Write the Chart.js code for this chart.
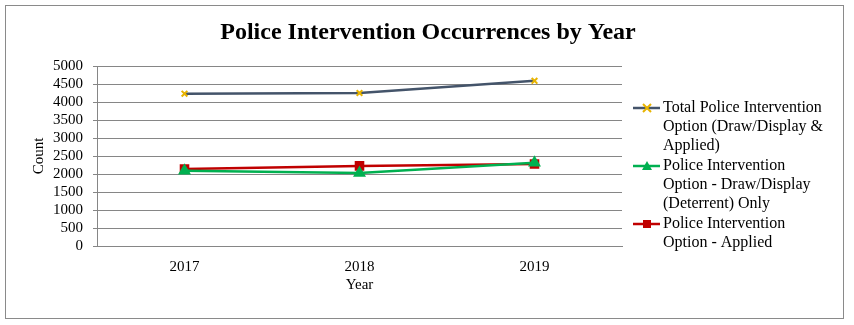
<!DOCTYPE html>
<html>
<head>
<meta charset="utf-8">
<script src="https://cdn.jsdelivr.net/npm/chart.js@4"></script>
<style>
  html, body { margin: 0; padding: 0; background: #fff; }
  #wrap { width: 854px; height: 325px; position: relative; }
</style>
</head>
<body>
<div id="wrap"><canvas id="chart" width="854" height="325"></canvas></div>
<script>
// Chart data
const years = ['2017', '2018', '2019'];
const totalIntervention = [4230, 4250, 4590];
const drawDisplayOnly = [2090, 2025, 2310];
const appliedOnly = [2140, 2225, 2280];

const yTicks = [0, 500, 1000, 1500, 2000, 2500, 3000, 3500, 4000, 4500, 5000];

const chartTitle = 'Police Intervention Occurrences by Year';
const legendLabels = [
  ['Total Police Intervention', 'Option (Draw/Display &', 'Applied)'],
  ['Police Intervention', 'Option - Draw/Display', '(Deterrent) Only'],
  ['Police Intervention', 'Option - Applied']
];

const serif = '"Liberation Serif", "Times New Roman", serif';

// Draws the frame, the title and the wrapped legend
const decorations = {
  id: 'decorations',
  afterDraw(chart) {
    const ctx = chart.ctx;
    ctx.save();
    ctx.strokeStyle = '#8a8a8a';
    ctx.lineWidth = 1;
    ctx.strokeRect(5.5, 5.5, 838, 313);

    ctx.fillStyle = '#000';
    ctx.font = 'bold 24px ' + serif;
    ctx.textAlign = 'center';
    ctx.textBaseline = 'middle';
    ctx.fillText(chartTitle, 428, 33);

    // legend
    ctx.font = '16px ' + serif;
    ctx.textAlign = 'left';
    const startY = [108, 166, 224];
    chart.data.datasets.forEach((ds, i) => {
      const y = startY[i];
      ctx.strokeStyle = ds.borderColor;
      ctx.lineWidth = 2.5;
      ctx.beginPath();
      ctx.moveTo(633, y);
      ctx.lineTo(660, y);
      ctx.stroke();
      drawMarker(ctx, ds, 647, y);
      ctx.fillStyle = '#000';
      legendLabels[i].forEach((line, j) => {
        ctx.fillText(line, 663, y + j * 19);
      });
    });
    ctx.restore();
  }
};

function drawMarker(ctx, ds, x, y) {
  ctx.save();
  const r = 4;
  if (ds.pointStyle === 'rect') {
    ctx.fillStyle = ds.pointBackgroundColor;
    ctx.fillRect(x - r, y - r, 2 * r, 2 * r);
  } else if (ds.pointStyle === 'triangle') {
    ctx.fillStyle = ds.pointBackgroundColor;
    ctx.beginPath();
    ctx.moveTo(x, y - r - 1);
    ctx.lineTo(x + r + 1, y + r);
    ctx.lineTo(x - r - 1, y + r);
    ctx.closePath();
    ctx.fill();
  } else {
    ctx.strokeStyle = ds.pointBorderColor;
    ctx.lineWidth = 2;
    ctx.beginPath();
    ctx.moveTo(x - r, y - r); ctx.lineTo(x + r, y + r);
    ctx.moveTo(x + r, y - r); ctx.lineTo(x - r, y + r);
    ctx.stroke();
  }
  ctx.restore();
}

const ctx = document.getElementById('chart').getContext('2d');
new Chart(ctx, {
  type: 'line',
  data: {
    labels: years,
    datasets: [
      {
        label: legendLabels[0].join(' '),
        data: totalIntervention,
        borderColor: '#44546A',
        borderWidth: 2.5,
        pointStyle: 'crossRot',
        pointRadius: 4,
        pointBorderColor: '#E8B400',
        pointBackgroundColor: '#E8B400',
        pointBorderWidth: 2
      },
      {
        label: legendLabels[1].join(' '),
        data: drawDisplayOnly,
        borderColor: '#00B050',
        borderWidth: 2.5,
        pointStyle: 'triangle',
        pointRadius: 5,
        pointBorderColor: '#00B050',
        pointBackgroundColor: '#00B050'
      },
      {
        label: legendLabels[2].join(' '),
        data: appliedOnly,
        borderColor: '#C00000',
        borderWidth: 2.5,
        pointStyle: 'rect',
        pointRadius: 5,
        pointBorderColor: '#C00000',
        pointBackgroundColor: '#C00000'
      }
    ]
  },
  options: {
    responsive: false,
    animation: false,
    layout: { padding: { top: 66, right: 232, left: 0, bottom: 0 } },
    plugins: {
      legend: { display: false },
      title: { display: false },
      tooltip: { enabled: false }
    },
    scales: {
      x: {
        offset: true,
        grid: { display: false, drawTicks: false },
        border: { display: true, color: '#868686' },
        ticks: { color: '#000', padding: 12, font: { family: serif, size: 15 } },
        title: {
          display: true,
          text: 'Year',
          color: '#000',
          font: { family: serif, size: 15 },
          padding: { top: 0, bottom: 31 }
        },
        afterFit(scale) { scale.height = 79; }
      },
      y: {
        min: 0,
        max: 5000,
        afterBuildTicks(scale) { scale.ticks = yTicks.map(v => ({ value: v })); },
        grid: { color: '#868686', tickLength: 4, drawTicks: true },
        border: { display: true, color: '#868686' },
        ticks: {
          color: '#000',
          padding: 10,
          autoSkip: false,
          font: { family: serif, size: 15 },
          callback: (value) => String(value)
        },
        title: {
          display: true,
          text: 'Count',
          color: '#000',
          font: { family: serif, size: 15 },
          padding: { top: 30, bottom: 0 }
        },
        afterFit(scale) { scale.width = 97; }
      }
    }
  },
  plugins: [decorations]
});
</script>
</body>
</html>
